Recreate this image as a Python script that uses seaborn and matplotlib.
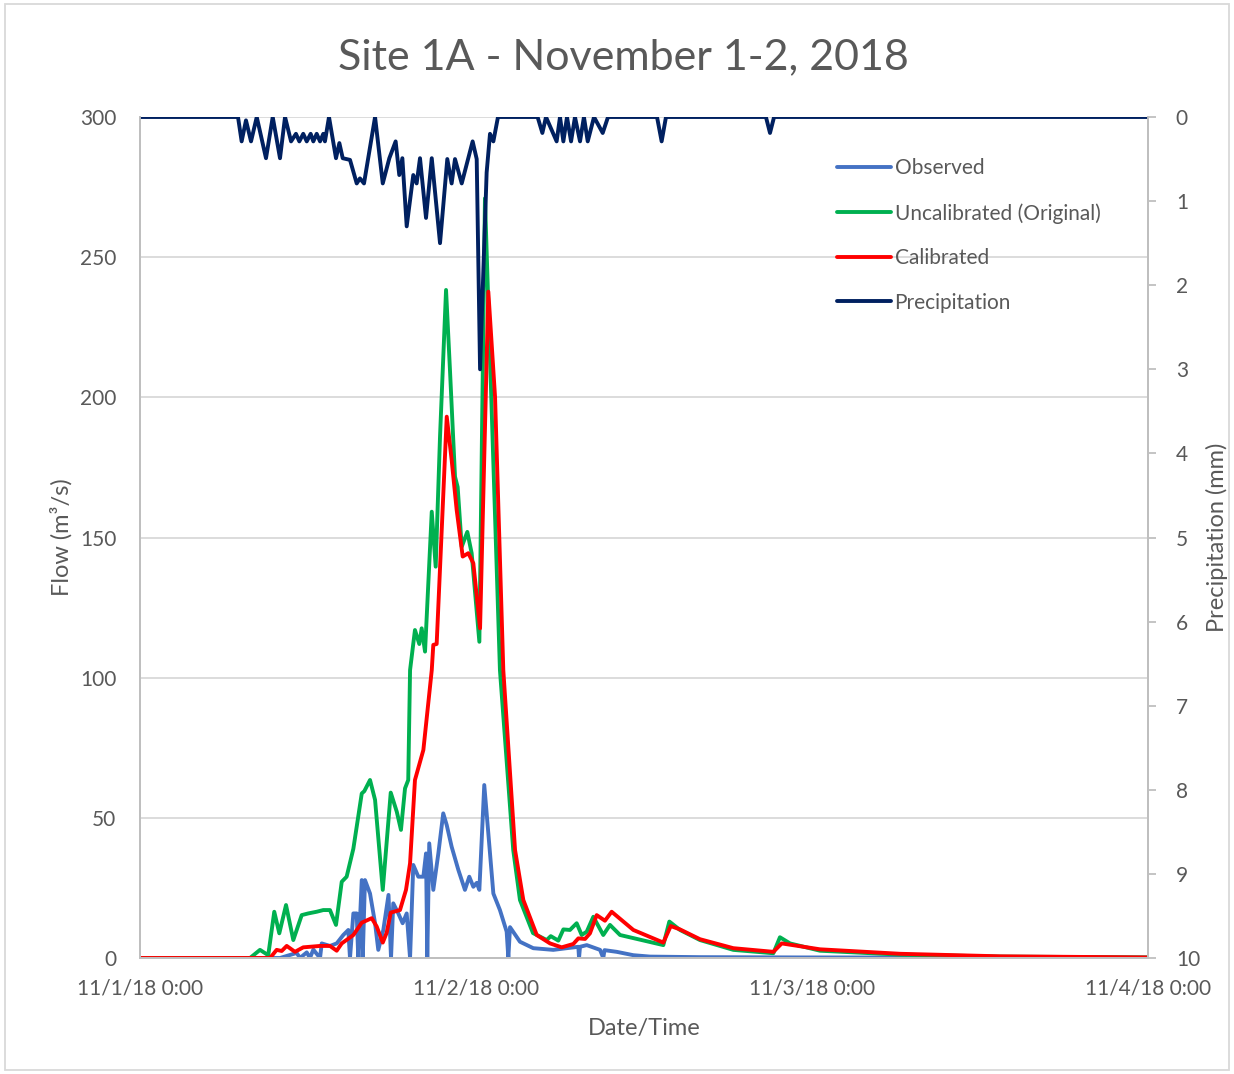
import matplotlib
matplotlib.use("Agg")
import matplotlib.pyplot as plt
from matplotlib.patches import Rectangle
import seaborn as sns
import pandas as pd

# --- data (x in hours after 11/1/18 0:00) ---
precip_hours = [0, 7.0, 7.26, 7.57, 7.93, 8.34, 9.0, 9.48, 10.0, 10.36, 10.79,
                11.14, 11.38, 11.66, 11.91, 12.19, 12.38, 12.62, 12.86, 13.09, 13.21,
                13.5, 14.0, 14.24, 14.48, 15.0, 15.48, 15.71, 16.0, 16.79, 17.34,
                17.81, 18.26, 18.52, 18.74, 19.05, 19.52, 19.76, 20.0, 20.43, 20.84,
                21.43, 21.95, 22.26, 22.5, 22.98, 23.76, 24.05, 24.29, 24.76, 25.0,
                25.24, 25.57, 28.4, 28.74, 29.0, 29.76, 30.0, 30.24, 30.5, 30.79,
                31.07, 31.43, 31.71, 31.98, 32.43, 33.05, 33.43, 36.93, 37.26, 37.57,
                44.71, 45.0, 45.29, 72.0]
precip_mm = [0, 0, 0.29, 0.04, 0.29, 0, 0.49, 0, 0.49, 0, 0.29,
             0.2, 0.29, 0.2, 0.29, 0.2, 0.29, 0.2, 0.29, 0.2, 0.29,
             0, 0.49, 0.31, 0.49, 0.51, 0.79, 0.73, 0.79, 0, 0.79,
             0.49, 0.29, 0.69, 0.49, 1.30, 0.69, 0.79, 0.49, 1.20, 0.49,
             1.50, 0.5, 0.79, 0.5, 0.79, 0.29, 0.5, 3.0, 0.66, 0.2,
             0.29, 0, 0, 0.19, 0, 0.29, 0, 0.29, 0, 0.29,
             0, 0.29, 0, 0.29, 0, 0.19, 0, 0, 0.29, 0,
             0, 0.19, 0, 0]

obs_hours = [0, 10.0, 11.19, 11.43, 11.91, 12.14, 12.38, 12.86, 12.98, 13.57,
             14.05, 14.52, 14.88, 15.0, 15.24, 15.48, 15.59, 15.84, 15.91, 16.07,
             16.43, 16.79, 17.02, 17.38, 17.75, 17.93, 18.09, 18.45, 18.76, 19.05,
             19.29, 19.52, 19.88, 20.24, 20.43, 20.52, 20.66, 20.95, 21.31, 21.66,
             21.91, 22.26, 22.74, 23.21, 23.52, 23.81, 24.05, 24.24, 24.59, 24.88,
             25.24, 25.71, 26.19, 26.31, 26.43, 27.14, 28.09, 29.52, 30.48, 31.31,
             31.36, 31.43, 31.91, 32.86, 33.09, 33.18, 34.05, 35.24, 36.43, 40.0,
             47.14, 72.0]
obs_flow = [0, 0, 1.8, 0, 2.0, 0, 3.0, 0, 5.2, 4.3,
            5.2, 8.2, 10.0, 0, 15.9, 15.9, 0, 27.8, 0, 27.8,
            23.0, 12.4, 2.9, 10.0, 22.5, 0, 19.5, 15.9, 12.4, 15.9,
            0, 33.2, 29.0, 29.0, 37.3, 0, 40.9, 24.3, 37.3, 51.6,
            47.4, 39.7, 31.4, 24.3, 29.0, 25.4, 26.8, 24.3, 61.7, 44.5,
            23.0, 17.1, 9.4, 0, 11.0, 5.8, 3.5, 2.9, 3.5, 4.0,
            0, 4.0, 4.6, 2.9, 0, 2.8, 2.2, 1.0, 0.5, 0.3,
            0.2, 0.1]

uncal_hours = [0, 7.86, 8.57, 9.16, 9.59, 9.95, 10.43, 10.95, 11.55, 12.02,
               12.62, 13.09, 13.57, 14.0, 14.41, 14.76, 15.24, 15.84, 16.02, 16.43,
               16.79, 17.34, 17.91, 18.34, 18.64, 18.93, 19.16, 19.29, 19.64, 19.95,
               20.12, 20.36, 20.84, 21.12, 21.43, 21.86, 22.14, 22.5, 22.69, 22.98,
               23.38, 23.69, 24.24, 24.64, 25.71, 26.66, 27.14, 28.07, 29.05, 29.34,
               29.88, 30.24, 30.71, 31.19, 31.55, 31.91, 32.38, 33.09, 33.57, 34.29,
               37.38, 37.81, 38.57, 40.0, 42.38, 45.24, 45.71, 46.43, 48.57, 54.29,
               61.43, 72.0]
uncal_flow = [0, 0, 2.9, 1.0, 16.5, 8.8, 18.9, 6.4, 15.3, 15.9,
              16.5, 17.1, 17.1, 11.8, 27.2, 29.0, 39.0, 58.7, 59.5, 63.5,
              56.4, 24.3, 59.0, 52.2, 45.7, 60.5, 63.5, 102.7, 117.0, 112.0,
              117.6, 109.3, 159.2, 139.6, 186.0, 238.3, 209.8, 171.7, 168.0, 146.7,
              152.0, 144.4, 112.8, 271.0, 102.7, 38.5, 20.7, 8.9, 6.4, 7.8,
              6.2, 10.2, 10.0, 12.4, 8.2, 9.4, 14.7, 8.2, 11.8, 8.2,
              4.6, 13.0, 10.0, 6.4, 2.9, 1.7, 7.4, 5.2, 2.6, 1.2,
              0.5, 0.2]

cal_hours = [0, 9.29, 9.76, 10.12, 10.48, 11.07, 11.66, 12.86, 13.57, 14.05,
             14.41, 15.24, 15.84, 16.55, 16.91, 17.34, 17.62, 17.91, 18.57, 19.0,
             19.29, 19.64, 20.24, 20.84, 20.95, 21.19, 21.91, 22.26, 22.62, 23.05,
             23.45, 23.81, 24.29, 24.88, 25.36, 25.95, 26.79, 27.38, 28.34, 29.29,
             30.12, 30.95, 31.31, 31.79, 32.14, 32.62, 33.21, 33.69, 35.24, 37.38,
             37.91, 38.57, 40.0, 42.38, 45.24, 45.84, 48.57, 54.29, 61.43, 72.0]
cal_flow = [0, 0, 2.9, 2.5, 4.3, 2.2, 3.8, 4.3, 4.3, 2.6,
            5.2, 8.2, 12.6, 14.2, 11.2, 5.5, 9.0, 16.2, 17.1, 24.3,
            33.8, 63.5, 74.2, 102.7, 111.7, 112.0, 193.1, 177.7, 159.8, 143.2,
            144.4, 140.8, 117.6, 237.7, 200.2, 102.7, 38.5, 20.7, 8.2, 5.2,
            3.8, 5.0, 7.0, 6.8, 8.8, 15.3, 13.3, 16.5, 10.0, 5.5,
            11.4, 10.2, 6.7, 3.5, 2.2, 5.2, 3.1, 1.5, 0.6, 0.2]

tick_labels = ["11/1/18 0:00", "11/2/18 0:00", "11/3/18 0:00", "11/4/18 0:00"]

start = pd.Timestamp("2018-11-01 00:00")


def to_df(hours, values):
    return pd.DataFrame({"time": start + pd.to_timedelta(hours, unit="h"), "value": values})


sns.set_style("white")
plt.rcParams["font.family"] = ["Lato", "DejaVu Sans"]
text_color = "#595959"
grid_color = "#d9d9d9"
axis_color = "#bfbfbf"

fig, ax = plt.subplots(figsize=(12.34, 10.74), dpi=100)
fig.subplots_adjust(left=140 / 1234, right=1148 / 1234, bottom=1 - 958 / 1074, top=1 - 117 / 1074)
ax2 = ax.twinx()

lw = 2.8
line_kw = dict(linewidth=lw, legend=False, solid_joinstyle="round", solid_capstyle="round")
sns.lineplot(data=to_df(obs_hours, obs_flow), x="time", y="value", ax=ax,
             color="#4472C4", label="Observed", **line_kw)
sns.lineplot(data=to_df(uncal_hours, uncal_flow), x="time", y="value", ax=ax,
             color="#00B050", label="Uncalibrated (Original)", **line_kw)
sns.lineplot(data=to_df(cal_hours, cal_flow), x="time", y="value", ax=ax,
             color="#FF0000", label="Calibrated", **line_kw)
sns.lineplot(data=to_df(precip_hours, precip_mm), x="time", y="value", ax=ax2,
             color="#002060", label="Precipitation", **line_kw)

# axes limits and ticks
ax.set_xlim(start, start + pd.Timedelta(days=3))
ax.set_ylim(0, 300)
ax.set_yticks(range(0, 301, 50))
ax2.set_ylim(10, 0)
ax2.set_yticks(range(0, 11))
ticks = [start + pd.Timedelta(days=d) for d in range(4)]
ax.set_xticks(ticks)
ax.set_xticklabels(tick_labels)

ax.grid(axis="y", color=grid_color, linewidth=1.3)
ax.grid(axis="x", visible=False)
ax2.grid(False)

for a in (ax, ax2):
    a.spines["top"].set_visible(False)
    for side in ("left", "right", "bottom"):
        a.spines[side].set_color(axis_color)
        a.spines[side].set_linewidth(1.3)

ax.tick_params(axis="x", length=0, pad=15, labelsize=15, labelcolor=text_color)
ax.tick_params(axis="y", length=0, pad=17, labelsize=15, labelcolor=text_color)
ax2.tick_params(axis="y", length=6, width=1.3, color=axis_color, pad=14,
                labelsize=15, labelcolor=text_color)

ax.set_xlabel("Date/Time", fontsize=17, color=text_color, labelpad=14)
ax.set_ylabel("Flow (m³/s)", fontsize=17, color=text_color, labelpad=5)
ax2.set_ylabel("Precipitation (mm)", fontsize=17, color=text_color, labelpad=4)

fig.text(0.505, 1 - 57 / 1074, "Site 1A - November 1-2, 2018", ha="center", va="center",
         fontsize=31, color=text_color)

h1, l1 = ax.get_legend_handles_labels()
h2, l2 = ax2.get_legend_handles_labels()
leg = ax2.legend(h1 + h2, l1 + l2, loc="upper left", bbox_to_anchor=(829 / 1234, 1 - 150 / 1074),
                 bbox_transform=fig.transFigure, frameon=False, fontsize=15,
                 handlelength=2.6, handletextpad=0.15, labelspacing=1.18, borderaxespad=0)
for t in leg.get_texts():
    t.set_color(text_color)

fig.patches.append(Rectangle((0.004, 0.004), 0.992, 0.992, transform=fig.transFigure,
                             fill=False, edgecolor=grid_color, linewidth=1.3))

fig.savefig("out.png", dpi=100)
